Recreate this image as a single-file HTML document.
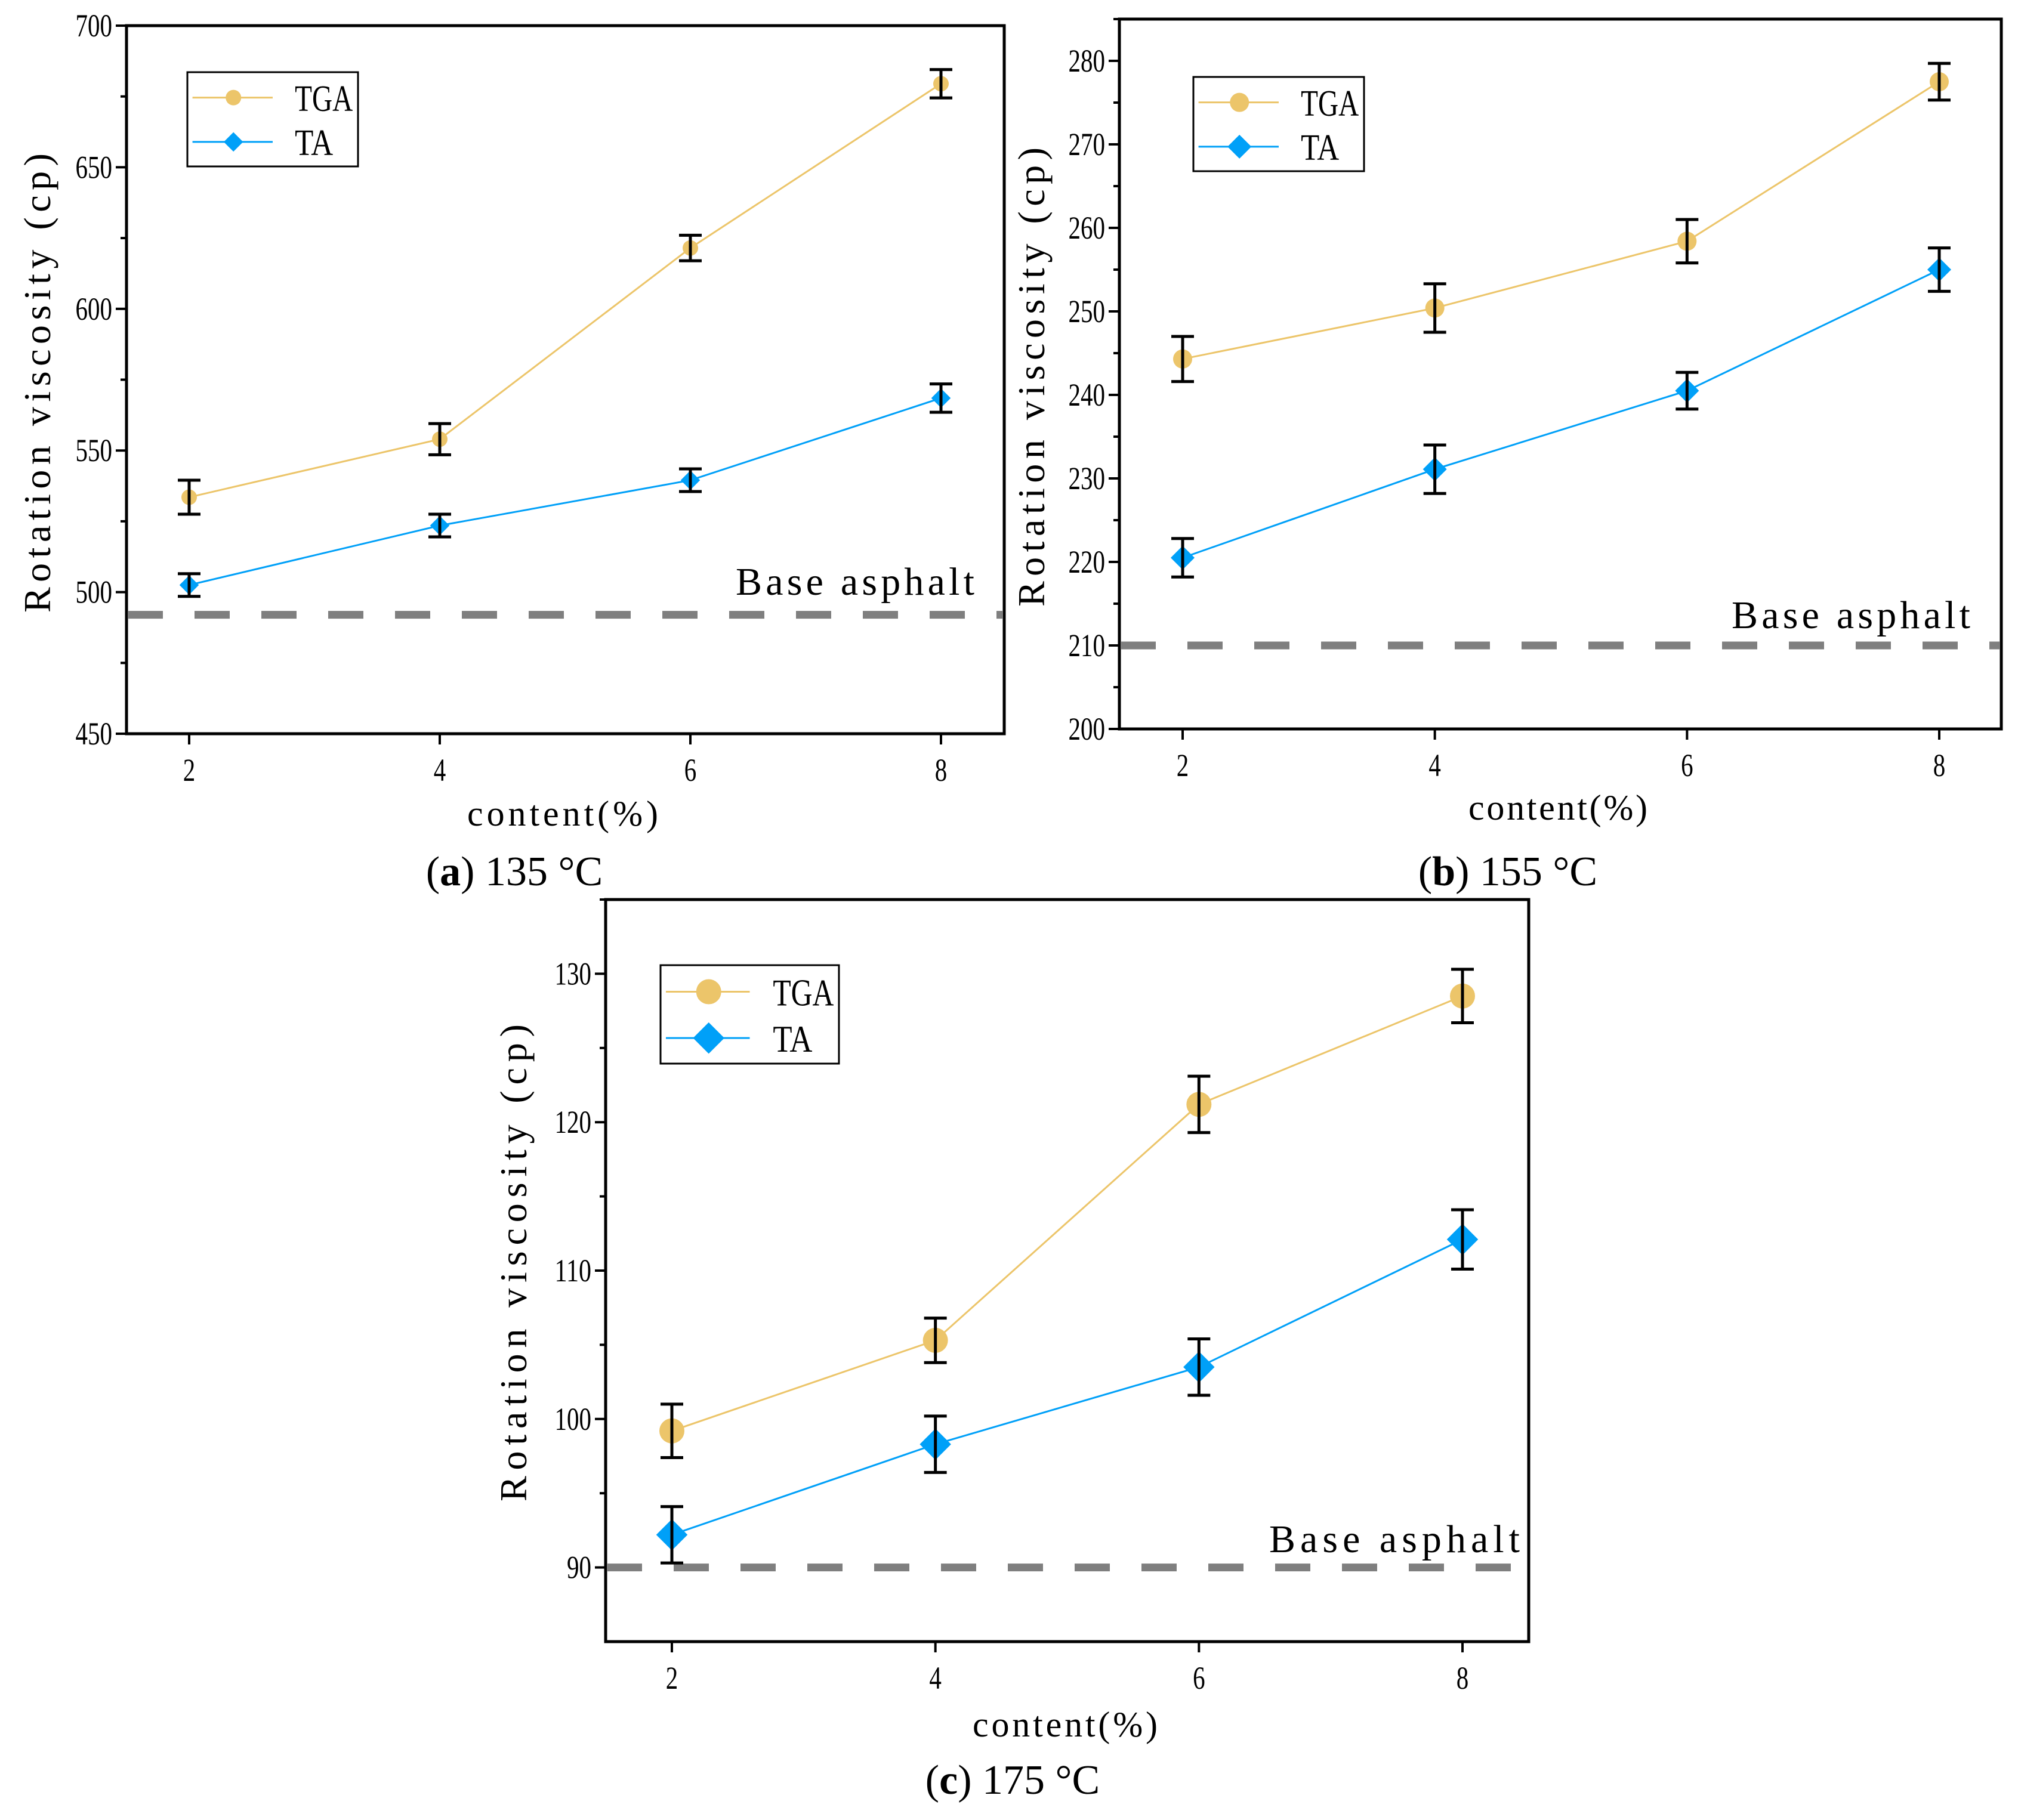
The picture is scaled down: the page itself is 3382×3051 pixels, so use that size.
<!DOCTYPE html>
<html><head><meta charset="utf-8"><style>
html,body{margin:0;padding:0;background:#fff;}
svg{display:block;}
text{font-family:"Liberation Serif","Noto Serif CJK SC",serif;fill:#000;}
</style></head><body>
<svg id="fig" width="3382" height="3051" viewBox="0 0 3382 3051" xmlns="http://www.w3.org/2000/svg"></svg>
<script>
// ---- data ----
const contents = [2, 4, 6, 8];
const xTickLabels = ["2", "4", "6", "8"];
const tgaA = [533.5, 554, 621.5, 679.5];
const tgaAErr = [6, 5.5, 4.5, 5];
const taA = [502.5, 523.5, 539.5, 568.5];
const taAErr = [4, 4, 4, 5];
const baseA = 492;
const yTicksA = [450, 500, 550, 600, 650, 700];
const tgaB = [244.3, 250.4, 258.4, 277.5];
const tgaBErr = [2.7, 2.9, 2.6, 2.2];
const taB = [220.5, 231.1, 240.5, 255];
const taBErr = [2.3, 2.9, 2.2, 2.6];
const baseB = 210;
const yTicksB = [200, 210, 220, 230, 240, 250, 260, 270, 280];
const tgaC = [99.2, 105.3, 121.2, 128.5];
const tgaCErr = [1.8, 1.5, 1.9, 1.8];
const taC = [92.2, 98.3, 103.5, 112.1];
const taCErr = [1.9, 1.9, 1.9, 2.0];
const baseC = 90;
const yTicksC = [90, 100, 110, 120, 130];

const NS = "http://www.w3.org/2000/svg";
const svg = document.getElementById("fig");
function mk(tag, attrs, parent) {
  const e = document.createElementNS(NS, tag);
  for (const k in attrs) e.setAttribute(k, attrs[k]);
  (parent || svg).appendChild(e);
  return e;
}
const TGA_COL = "#ECC56A", TA_COL = "#00A0F8";

function panel(p) {
  const g = mk("g", {});
  
  
  const xs = v => p.x2px + (v - 2) * (p.x8px - p.x2px) / 6;
  const ys = v => p.bottom - (v - p.ymin) * (p.bottom - p.top) / (p.ymax - p.ymin);
  const frame = mk("rect", {x: p.left, y: p.top, width: p.right - p.left, height: p.bottom - p.top, fill: "none", stroke: "#000", "stroke-width": 5}, g);
  
  
  const step = p.yTicks[1] - p.yTicks[0];
  for (let v = p.yTicks[0]; v <= p.ymax + 1e-9; v += step / 2) {
    const major = p.yTicks.some(t => Math.abs(t - v) < 1e-6);
    const y = ys(v);
    if (y < p.top - 1 || y > p.bottom + 1) continue;
    const t = mk("line", {x1: p.left, x2: p.left - (major ? 18 : 10), y1: y, y2: y, stroke: "#000", "stroke-width": 4}, g);
    
    
  }
  p.yTicks.forEach(v => {
    const lbl = mk("text", {x: p.left - 24, y: ys(v) + 18, "text-anchor": "end", "font-size": 54, textLength: String(v).length * 20.5, lengthAdjust: "spacingAndGlyphs"}, g);
    lbl.textContent = String(v);
    
    
  });
  contents.forEach((c, i) => {
    const x = xs(c);
    const t = mk("line", {x1: x, x2: x, y1: p.bottom, y2: p.bottom + 18, stroke: "#000", "stroke-width": 4}, g);
    
    
    const lbl = mk("text", {x: x, y: p.bottom + 79, "text-anchor": "middle", "font-size": 54, textLength: 20.5, lengthAdjust: "spacingAndGlyphs"}, g);
    lbl.textContent = xTickLabels[i];
    
    
  });
  const bl = mk("line", {x1: p.left + 2, x2: p.right - 2, y1: ys(p.base), y2: ys(p.base), stroke: "#7f7f7f", "stroke-width": 13, "stroke-dasharray": "59 53"}, g);
  
  
  const bt = mk("text", {x: p.baseTextRight, y: p.baseTextY, "text-anchor": "end", "font-size": 66, textLength: p.baseTextW, lengthAdjust: "spacing"}, g);
  bt.textContent = "Base asphalt";
  
  
  const series = [
    {name: "tga", vals: p.tga, errs: p.tgaErr, col: TGA_COL, shape: "circle"},
    {name: "ta", vals: p.ta, errs: p.taErr, col: TA_COL, shape: "diamond"}
  ];
  series.forEach(s => {
    const pts = contents.map((c, i) => xs(c) + "," + ys(s.vals[i])).join(" ");
    const ln = mk("polyline", {points: pts, fill: "none", stroke: s.col, "stroke-width": 3}, g);
    
    
  });
  series.forEach(s => {
    contents.forEach((c, i) => {
      const x = xs(c), y = ys(s.vals[i]);
      let m;
      if (s.shape === "circle") {
        m = mk("circle", {cx: x, cy: y, r: p.mr, fill: s.col}, g);
      } else {
        const r = p.mr * 1.25;
        m = mk("polygon", {points: `${x},${y - r} ${x + r},${y} ${x},${y + r} ${x - r},${y}`, fill: s.col}, g);
      }
      
      
      const y1 = ys(s.vals[i] + s.errs[i]), y2 = ys(s.vals[i] - s.errs[i]);
      const eb = mk("path", {d: `M${x},${y1} V${y2} M${x - 19},${y1} H${x + 19} M${x - 19},${y2} H${x + 19}`, stroke: "#000", "stroke-width": 5, fill: "none"}, g);
      
      
    });
  });
  const L = p.leg;
  const lg = mk("g", {}, g);
  
  
  mk("rect", {x: L.x, y: L.y, width: L.w, height: L.h, fill: "#fff", stroke: "#000", "stroke-width": 3}, lg);
  const rows = [{t: "TGA", col: TGA_COL, shape: "circle", tw: L.tw1}, {t: "TA", col: TA_COL, shape: "diamond", tw: L.tw2}];
  rows.forEach((r, k) => {
    const ry = L.y + L.h * (k === 0 ? 0.27 : 0.74);
    const e = mk("g", {}, lg);
    
    
    mk("line", {x1: L.x + L.w * 0.03, x2: L.x + L.w * 0.50, y1: ry, y2: ry, stroke: r.col, "stroke-width": 3}, e);
    const cx = L.x + L.w * 0.27;
    if (r.shape === "circle") mk("circle", {cx: cx, cy: ry, r: L.mr, fill: r.col}, e);
    else { const q = L.mr * 1.25; mk("polygon", {points: `${cx},${ry - q} ${cx + q},${ry} ${cx},${ry + q} ${cx - q},${ry}`, fill: r.col}, e); }
    const tx = mk("text", {x: L.x + L.w * 0.63, y: ry + L.fs * 0.36, "font-size": L.fs, textLength: r.tw, lengthAdjust: "spacingAndGlyphs"}, e);
    tx.textContent = r.t;
  });
  const yt = mk("text", {transform: `translate(${p.ytX},${p.ytY}) rotate(-90)`, "text-anchor": "middle", "font-size": 64, textLength: p.ytW, lengthAdjust: "spacing"}, g);
  yt.textContent = "Rotation viscosity (cp)";
  
  
  const xt = mk("text", {x: p.xtX, y: p.xtY + 20, "text-anchor": "middle", "font-size": 60, textLength: p.xtW, lengthAdjust: "spacing"}, g);
  xt.textContent = "content(%)";
  
  
  const cap = mk("text", {x: p.capX, y: p.capY + 24, "text-anchor": "middle", "font-size": 70}, g);
  const b = mk("tspan", {}, cap); b.textContent = "(";
  const bb = mk("tspan", {"font-weight": "bold"}, cap); bb.textContent = p.letter;
  const rest = mk("tspan", {}, cap); rest.textContent = ") " + p.temp;
  
  
}

panel({id: "panel-a", left: 212, right: 1683, top: 43, bottom: 1230, ymin: 450, ymax: 700, yTicks: yTicksA,
  x2px: 317, x8px: 1577, tga: tgaA, tgaErr: tgaAErr, ta: taA, taErr: taAErr, base: baseA, mr: 13,
  baseTextRight: 1633, baseTextY: 997, baseTextW: 400,
  leg: {x: 314, y: 121, w: 286, h: 158, mr: 13, fs: 62, tw1: 97, tw2: 64},
  ytX: 84, ytY: 642, ytW: 770, xtX: 943, xtY: 1364, xtW: 320, capX: 862, capY: 1460, letter: "a", temp: "135 °C"});

panel({id: "panel-b", left: 1876, right: 3354, top: 32, bottom: 1222, ymin: 200, ymax: 285, yTicks: yTicksB,
  x2px: 1982, x8px: 3250, tga: tgaB, tgaErr: tgaBErr, ta: taB, taErr: taBErr, base: baseB, mr: 16,
  baseTextRight: 3302, baseTextY: 1053, baseTextW: 400,
  leg: {x: 2000, y: 129, w: 286, h: 158, mr: 16, fs: 62, tw1: 97, tw2: 64},
  ytX: 1750, ytY: 632, ytW: 770, xtX: 2611, xtY: 1354, xtW: 300, capX: 2527, capY: 1460, letter: "b", temp: "155 °C"});

panel({id: "panel-c", left: 1015, right: 2562, top: 1508, bottom: 2752, ymin: 85, ymax: 135, yTicks: yTicksC,
  x2px: 1126, x8px: 2451, tga: tgaC, tgaErr: tgaCErr, ta: taC, taErr: taCErr, base: baseC, mr: 21,
  baseTextRight: 2547, baseTextY: 2602, baseTextW: 420,
  leg: {x: 1107, y: 1618, w: 299, h: 165, mr: 21, fs: 64, tw1: 102, tw2: 66},
  ytX: 882, ytY: 2117, ytW: 800, xtX: 1785, xtY: 2891, xtW: 310, capX: 1697, capY: 2983, letter: "c", temp: "175 °C"});
</script>
</body></html>
